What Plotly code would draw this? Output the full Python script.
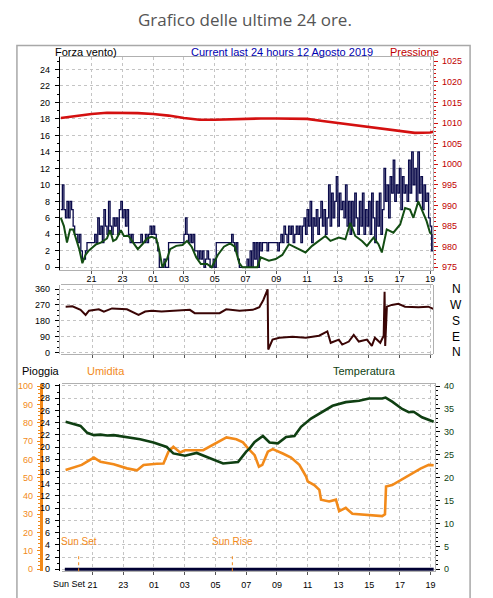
import numpy as np
import plotly.graph_objects as go

W, H = 493, 598
FONT = "Liberation Sans, Arial, sans-serif"

# ---------------- data (hours since 19:00 of the previous day) ----------------
tick_hours = [2, 4, 6, 8, 10, 12, 14, 16, 18, 20, 22, 24]
tick_labels = ["21", "23", "01", "03", "05", "07", "09", "11", "13", "15", "17", "19"]

# wind gust (Forza vento) sampled every 0.1 h
gust_step = 0.1
gust = [
    7, 10, 7, 6, 8, 6, 8, 7, 5, 4,
    4, 3, 4, 2, 1, 1, 2, 3, 3, 3,
    3, 3, 4, 3, 6, 4, 5, 3, 7, 5,
    4, 8, 5, 4, 6, 5, 6, 4, 7, 8,
    6, 7, 5, 7, 4, 3, 4, 3, 3, 3,
    3, 3, 4, 3, 3, 4, 3, 4, 5, 4,
    5, 4, 3, 2, 0, 0, 0, 1, 0, 0,
    3, 3, 3, 3, 3, 3, 3, 3, 3, 3,
    4, 6, 4, 3, 4, 3, 4, 2, 2, 1,
    2, 1, 2, 0, 1, 2, 1, 0, 0, 1,
    0, 3, 3, 3, 3, 3, 3, 3, 3, 3,
    3, 4, 3, 2, 3, 1, 0, 0, 0, 0,
    0, 1, 0, 2, 0, 3, 1, 3, 0, 3,
    2, 3, 3, 3, 2, 3, 3, 3, 3, 3,
    3, 2, 3, 4, 3, 5, 4, 3, 5, 4,
    5, 3, 4, 5, 4, 5, 3, 5, 6, 4,
    7, 5, 8, 3, 6, 5, 7, 4, 6, 8,
    5, 7, 4, 6, 10, 5, 9, 6, 8, 11,
    5, 9, 7, 8, 6, 10, 5, 8, 4, 8,
    5, 9, 6, 4, 8, 5, 9, 4, 7, 5,
    8, 4, 9, 6, 3, 8, 5, 9, 4, 7,
    12, 8, 10, 6, 11, 9, 13, 8, 10, 9,
    12, 7, 11, 9, 10, 8, 13, 9, 14, 10,
    12, 8, 14, 9, 11, 7, 10, 8, 9, 6,
    5, 2, 4,
]

# average wind
avg_hours = [0, 0.2, 0.4, 0.6, 0.8, 1.0, 1.2, 1.4, 1.6, 1.8, 2.0, 2.3, 2.6, 3.0, 3.2, 3.4,
             3.6, 3.9, 4.1, 4.4, 4.7, 5.0, 5.3, 5.6, 5.9, 6.2, 6.4, 6.6, 6.9, 7.1, 7.5,
             7.9, 8.2, 8.5, 8.8, 9.1, 9.5, 9.8, 10.2, 10.6, 11.0, 11.3, 11.6, 11.8, 12.2,
             12.77, 12.99, 13.52, 13.96, 14.39, 14.82, 15.47, 15.9, 16.33, 16.76, 17.19,
             17.52, 18.06, 18.49, 18.81, 19.13, 19.57, 19.89, 20.32, 20.64, 20.86, 21.18,
             21.61, 22.05, 22.37, 22.69, 22.91, 23.23, 23.56, 23.77, 23.99, 24.1]
avg_wind = [6, 5, 3, 4.6, 4.6, 3.5, 2.2, 0.5, 1.5, 2, 2.3, 2.8, 3.0, 3.5, 4.5, 3.2,
            3.4, 4.5, 3.8, 3.8, 3.0, 2.2, 2.8, 3.5, 3.7, 3.5, 2, 0, 1, 2.2, 2.6,
            2.7, 3.2, 2.5, 1.2, 0.4, 0.4, 0, 1.5, 2.5, 2.9, 2.5, 0.5, 0, 0,
            0, 1.2, 0.8, 1.0, 1.5, 2.8, 2.2, 1.8, 2.6, 3.2, 3.8,
            3.2, 3.6, 3.4, 5.4, 3.8, 3.2, 2.6, 3.6, 2.8, 1.8, 4.6,
            4.2, 5.2, 7.2, 7.0, 6.0, 8.0, 6.6, 5.6, 4.2, 4.0]

# pressure
press_hours = [0, 1, 2, 3, 4, 5, 6, 7, 8, 9, 10, 11, 12, 13, 14, 15, 16, 17, 18, 19, 20,
               21, 22, 23, 24, 24.2]
pressure = [1011.2, 1011.7, 1012.2, 1012.5, 1012.5, 1012.4, 1012.2, 1011.8, 1011.2, 1010.8,
            1010.8, 1010.9, 1011.1, 1011.1, 1011.1, 1011.1, 1011.0, 1010.5, 1010.0, 1009.5,
            1009.0, 1008.5, 1008.0, 1007.6, 1007.7, 1007.9]

# wind direction (degrees)
dir_hours = [0.25, 0.69, 1.22, 1.55, 1.77, 2.41, 2.74, 3.27, 4.24, 4.56, 5.0, 5.43, 5.86,
             6.5, 8.34, 8.66, 10.28, 10.71, 11.58, 12.44, 12.87, 13.13, 13.41, 13.45,
             13.73, 14.17, 15.03, 15.9, 16.76, 17.3, 17.52, 18.05, 18.27, 18.7, 19.02,
             19.35, 19.88, 20.2, 20.4, 20.75, 20.97, 21.03, 21.07, 21.18, 21.5, 21.93,
             22.36, 23.23, 23.88, 24.2]
direction = [260, 262, 242, 213, 237, 245, 232, 250, 245, 232, 213, 232, 237,
             232, 242, 223, 223, 245, 237, 242, 257, 298, 358, 17,
             73, 84, 90, 84, 95, 120, 55, 73, 45, 62, 100,
             62, 73, 37, 84, 55, 95, 345, 37, 260, 270, 276,
             260, 257, 260, 247]

# temperature
temp_hours = [0.25, 1.22, 1.66, 2.09, 2.52, 2.95, 3.38, 4.25, 5.1, 5.97, 6.83, 7.26, 8.02,
              8.78, 9.64, 10.5, 11.47, 12.0, 12.23, 12.55, 13.09, 13.52, 14.06, 14.6,
              15.14, 15.57, 16.22, 16.97, 17.62, 18.48, 19.35, 19.99, 20.85, 21.07,
              21.5, 22.15, 22.58, 22.9, 23.44, 24.2]
temperature = [32.2, 31.3, 29.8, 29.3, 29.4, 29.2, 29.3, 28.9, 28.4, 27.7, 26.7, 25.3, 24.8,
               25.4, 24.2, 23.1, 23.4, 25.7, 26.4, 27.8, 29.1, 27.7, 27.5, 28.9,
               29.1, 31.1, 32.9, 34.3, 35.7, 36.5, 36.8, 37.3, 37.3, 37.5,
               36.6, 35.0, 34.3, 34.4, 33.2, 32.2]

# humidity
hum_hours = [0.25, 0.9, 1.3, 2.09, 2.52, 3.38, 4.25, 4.89, 5.32, 6.19, 6.62, 6.94, 7.26,
             7.7, 8.02, 9.2, 9.85, 10.72, 11.36, 11.79, 12.12, 12.55, 12.83, 13.05, 13.41,
             13.73, 14.38, 14.92, 15.46, 15.9, 16.0, 16.43, 16.76, 16.87, 17.4, 17.84,
             18.05, 18.48, 18.91, 19.99, 20.85, 21.03, 21.1, 21.5, 22.05, 22.8, 23.34,
             23.88, 24.2]
humidity = [54.2, 56, 57, 61, 58.7, 57.3, 55.1, 54, 57, 57.6, 57.8, 64.2, 66.9,
            63.8, 65, 65, 68.1, 72, 71, 69.3, 66, 62.3, 56, 57, 64.2,
            65.6, 63.2, 61, 57, 50.6, 48, 46, 43.4, 38, 37, 38,
            31.7, 33.5, 30.3, 29.6, 29, 30, 45.2, 46, 48.8, 52.4, 55,
            57, 56.8]

# rain
rain_hours = [0.2, 24.2]
rain = [0, 0]

sunset_hour = 1.10
sunrise_hour = 11.10
compass = ["N", "W", "S", "E", "N"]
compass_deg = [360, 270, 180, 90, 0]

# ---------------- helpers ----------------
def px(x):
    return x / W

def py(y):
    return 1 - y / H

gust_hours = [round(i * gust_step, 2) for i in range(len(gust))]

NAVY = "#0a0a4a"
GREEN = "#134d13"
RED = "#d41010"
MAROON = "#3a0505"
ORANGE = "#f28a1a"
TGREEN = "#0f3f12"
GRID = "#c4c4c4"

fig = go.Figure()

fig.add_trace(go.Scatter(x=press_hours, y=pressure, xaxis="x", yaxis="y2", mode="lines",
                         line=dict(color=RED, width=2.6)))
fig.add_trace(go.Scatter(x=gust_hours, y=gust, xaxis="x", yaxis="y", mode="lines",
                         line=dict(color=NAVY, width=1.3, shape="hv")))
fig.add_trace(go.Scatter(x=avg_hours, y=avg_wind, xaxis="x", yaxis="y", mode="lines",
                         line=dict(color=GREEN, width=2)))
fig.add_trace(go.Scatter(x=dir_hours, y=direction, xaxis="x2", yaxis="y3", mode="lines",
                         line=dict(color=MAROON, width=2)))
fig.add_trace(go.Scatter(x=rain_hours, y=rain, xaxis="x3", yaxis="y4", mode="lines",
                         line=dict(color="#000033", width=3)))
fig.add_trace(go.Scatter(x=hum_hours, y=humidity, xaxis="x3", yaxis="y5", mode="lines",
                         line=dict(color=ORANGE, width=2.6)))
fig.add_trace(go.Scatter(x=temp_hours, y=temperature, xaxis="x3", yaxis="y6", mode="lines",
                         line=dict(color=TGREEN, width=2.6)))

TS = 9
tickfont = dict(family=FONT, size=TS, color="#000")

common_x = dict(tickvals=tick_hours, ticktext=tick_labels, showgrid=True, gridcolor=GRID,
                griddash="dot", gridwidth=1, zeroline=False, ticks="outside", ticklen=3,
                tickcolor="#555", showline=True, linecolor="#b0b0b0", mirror=True,
                tickfont=tickfont, fixedrange=True)

fig.update_layout(
    width=W, height=H, margin=dict(l=0, r=0, t=0, b=0), autosize=False,
    paper_bgcolor="white", plot_bgcolor="white", showlegend=False, hovermode=False,
    xaxis=dict(domain=[px(60), px(435)], range=[-0.07, 24.2], anchor="y",
               ticklabelstandoff=-3, **common_x),
    yaxis=dict(domain=[py(270), py(55)], range=[-0.36, 25.45], tickvals=list(range(0, 25, 2)),
               showgrid=True, gridcolor=GRID, griddash="dot", zeroline=False,
               ticks="outside", ticklen=4, tickcolor="#000", showline=True, linecolor="#000",
               tickfont=tickfont, ticklabelstandoff=3,
               minor=dict(dtick=1, ticks="outside", ticklen=2, tickcolor="#000", showgrid=False)),
    yaxis2=dict(overlaying="y", side="right", anchor="x", range=[974.28, 1025.9],
                tickvals=list(range(975, 1026, 5)), showgrid=False, zeroline=False,
                ticks="outside", ticklen=4, tickcolor=RED, showline=True, linecolor="#b0b0b0",
                tickfont=dict(family=FONT, size=TS, color="#c00000"), ticklabelstandoff=2,
                minor=dict(dtick=1, ticks="outside", ticklen=2, tickcolor=RED)),
    xaxis2=dict(domain=[px(61), px(435)], range=[-0.07, 24.2], anchor="y3",
                **{**common_x, "tickvals": tick_hours, "showticklabels": False}),
    yaxis3=dict(domain=[py(355), py(285)], range=[-11, 382], tickvals=[0, 90, 180, 270, 360],
                showgrid=True, gridcolor=GRID, griddash="dot", zeroline=False, ticks="outside",
                ticklen=4, tickcolor="#000", showline=True, linecolor="#b0b0b0", mirror=True,
                tickfont=tickfont, ticklabelstandoff=3,
                minor=dict(dtick=30, ticks="outside", ticklen=2, tickcolor="#000")),
    xaxis3=dict(domain=[px(62), px(437)], range=[0.0, 24.3], anchor="y4",
                ticklabelstandoff=2, **common_x),
    yaxis4=dict(domain=[py(574), py(385)], range=[-0.32, 30.3], tickvals=list(range(0, 31, 2)),
                showgrid=True, gridcolor=GRID, griddash="dot", zeroline=False, ticks="outside",
                ticklen=4, tickcolor="#000", showline=True, linecolor="#000",
                tickfont=tickfont, ticklabelstandoff=3,
                minor=dict(dtick=1, ticks="outside", ticklen=2, tickcolor="#000")),
    yaxis5=dict(overlaying="y4", anchor="free", position=px(41), side="left",
                range=[-1.08, 101.1], tickvals=list(range(0, 101, 10)), showgrid=False,
                zeroline=False, ticks="outside", ticklen=3, tickcolor=ORANGE, showline=True,
                linecolor=ORANGE, linewidth=3,
                tickfont=dict(family=FONT, size=TS, color=ORANGE), ticklabelstandoff=2,
                minor=dict(dtick=2, ticks="outside", ticklen=2, tickcolor=ORANGE)),
    yaxis6=dict(overlaying="y4", side="right", anchor="x3", range=[-0.43, 40.43],
                tickvals=list(range(0, 41, 5)), showgrid=False, zeroline=False,
                ticks="outside", ticklen=4, tickcolor="#000", showline=True,
                linecolor="#b0b0b0", tickfont=dict(family=FONT, size=TS, color=TGREEN),
                ticklabelstandoff=2,
                minor=dict(dtick=1, ticks="outside", ticklen=2, tickcolor="#000")),
)

ann = []
def text(x, y, s, color="#000", size=12, xanchor="left", family=FONT, xref="paper"):
    ann.append(dict(x=x if xref != "paper" else px(x), y=py(y), xref=xref, yref="paper",
                    text=s, showarrow=False, xanchor=xanchor, yanchor="middle",
                    font=dict(family=family, size=size, color=color)))

text(246, 17, "Grafico delle ultime 24 ore.", color="#555", size=17, xanchor="center",
     family="Open Sans, DejaVu Sans, sans-serif")
text(53, 50, "Forza vento)", size=11)
text(190, 49, "Current last 24 hours 12 Agosto 2019", color="#0000b0", size=11)
text(390, 49, "Pressione", color="#c00000", size=11)
text(20, 372, "Pioggia", size=11)
text(85, 372, "Umidita", color=ORANGE, size=11)
text(332, 372, "Temperatura", color=TGREEN, size=11)
for lbl, d in zip(compass, compass_deg):
    yy = 353 - d * 0.178
    text(458, yy, lbl, size=12, xanchor="center")

# sun set / sun rise
for hr, lbl in [(sunset_hour, "Sun Set"), (sunrise_hour, "Sun Rise")]:
    ann.append(dict(x=hr, y=py(544), xref="x3", yref="paper", text=lbl, showarrow=False,
                    xanchor="center", yanchor="middle",
                    font=dict(family=FONT, size=10, color=ORANGE)))
# "Sun Set" written among the x tick labels, just left of "21"
text(88, 587, "Sun Set", size=TS, xanchor="right")
fig.update_layout(annotations=ann)

shapes = [
    dict(type="rect", xref="paper", yref="paper", x0=px(17), x1=px(472), y0=py(602), y1=py(43),
         line=dict(color="#a8a8a8", width=1.5)),
]
for hr in [sunset_hour, sunrise_hour]:
    shapes.append(dict(type="line", xref="x3", yref="paper", x0=hr, x1=hr, y0=py(574), y1=py(557),
                       line=dict(color=ORANGE, width=1, dash="dot")))
fig.update_layout(shapes=shapes)

fig.write_html("out.html", config={"displayModeBar": False, "staticPlot": True},
               post_script="document.body.style.margin='0';document.body.style.padding='0';")
